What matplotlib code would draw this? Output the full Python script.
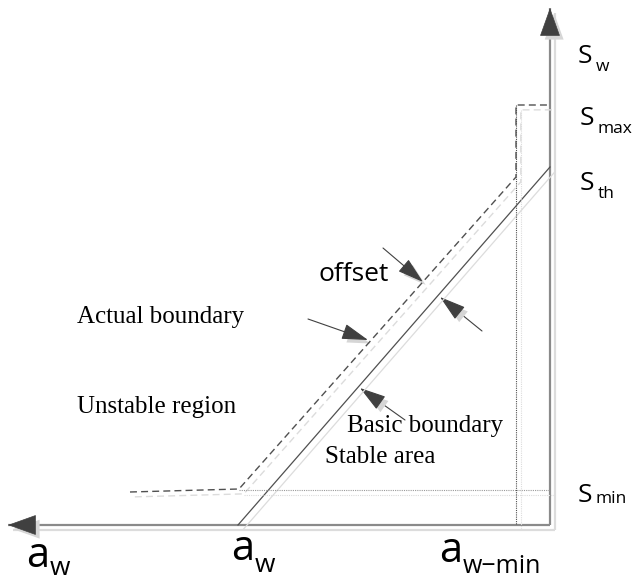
import matplotlib.pyplot as plt
import matplotlib.patheffects as pe
from matplotlib.patches import FancyArrowPatch

# diagram coordinates (pixel space, y grows downward)
origin = (550, 525)
axis_x_end = 8
axis_y_end = 8

basic_x = [238, 550]
basic_y = [525, 167]

actual_x = [130, 239, 516, 516, 550]
actual_y = [492, 489, 177, 105, 105]

smin_line_x = [239, 550]
smin_line_y = [490, 490]
awmin_line_x = [516, 516]
awmin_line_y = [105, 525]

# (tail, tip) of the pointer arrows
pointers = [((383, 248), (423, 282)),
            ((482, 331), (440, 297)),
            ((308, 319), (368, 340)),
            ((405, 420), (360, 388))]

# main symbol, subscript, left x, baselines (main, sub), sizes, gap
sym_labels = [('S', 'w', 578, 63, 71, 19, 12.5, 3),
              ('S', 'max', 580, 125, 133, 19, 12.5, 3),
              ('S', 'th', 580, 190, 198, 19, 12.5, 3),
              ('S', 'min', 578, 502, 503, 19, 12.5, 3),
              ('a', 'w', 26, 567, 575, 30, 19, 1),
              ('a', 'w', 231, 560, 572, 30, 19, 1),
              ('a', 'w\u2212min', 439, 562, 573, 30, 18, 1)]

serif_texts = [('Actual boundary', 77, 323),
               ('Unstable region', 77, 413),
               ('Basic boundary', 347, 432),
               ('Stable area', 325, 463)]

shadow = [pe.SimpleLineShadow(offset=(3.5, -3.5), shadow_color='#dcdcdc', alpha=1), pe.Normal()]
pshadow = [pe.SimplePatchShadow(offset=(3, -3), shadow_rgbFace='#d6d6d6', alpha=1), pe.Normal()]

fig = plt.figure(figsize=(6.34, 5.81), dpi=100)
ax = fig.add_axes([0, 0, 1, 1])
ax.set_xlim(0, 634)
ax.set_ylim(581, 0)
ax.axis('off')

# axes with arrowheads
for tip in [(axis_x_end, origin[1]), (origin[0], axis_y_end)]:
    ax.plot([origin[0], tip[0]], [origin[1], tip[1]], color='#8a8a8a', lw=1.6,
            path_effects=shadow, solid_capstyle='butt', zorder=2)
    dx = tip[0] - origin[0]
    dy = tip[1] - origin[1]
    n = (dx ** 2 + dy ** 2) ** 0.5
    base = (tip[0] - dx / n * 26, tip[1] - dy / n * 26)
    a = FancyArrowPatch(base, tip, arrowstyle='-|>,head_length=0.95,head_width=0.34',
                        mutation_scale=20, lw=0.5, shrinkA=0, shrinkB=0,
                        color='#404040', path_effects=pshadow, zorder=3)
    ax.add_patch(a)

# boundaries
ax.plot(basic_x, basic_y, color='#505050', lw=0.9, path_effects=shadow)
ax.plot(actual_x, actual_y, color='#505050', lw=1.0, dashes=(5, 3), path_effects=shadow)
ax.plot(smin_line_x, smin_line_y, color='#9a9a9a', lw=0.8, ls=(0, (1, 1)), path_effects=shadow)
ax.plot(awmin_line_x, awmin_line_y, color='#505050', lw=0.8, ls=(0, (1, 1)), path_effects=shadow)

for tail, tip in pointers:
    a = FancyArrowPatch(tail, tip, arrowstyle='-|>,head_length=1.5,head_width=0.45',
                        mutation_scale=11, lw=0.8, shrinkA=0, shrinkB=0, color='#404040',
                        path_effects=pshadow)
    ax.add_patch(a)

# labels
fig.canvas.draw()
for main, sub, x, yb, ysb, fs, fss, gap in sym_labels:
    t = ax.text(x, yb, main, fontsize=fs, family='Open Sans', va='baseline', ha='left')
    bb = t.get_window_extent(renderer=fig.canvas.get_renderer())
    x1 = ax.transData.inverted().transform((bb.x1, bb.y0))[0]
    ax.text(x1 + gap, ysb, sub, fontsize=fss, family='Open Sans', va='baseline', ha='left')

ax.text(318, 281, 'offset', fontsize=19, family='Open Sans', va='baseline', ha='left')

for s, x, y in serif_texts:
    ax.text(x, y, s, fontsize=18, family='Liberation Serif', va='baseline', ha='left')

fig.savefig('out.png', dpi=100)
